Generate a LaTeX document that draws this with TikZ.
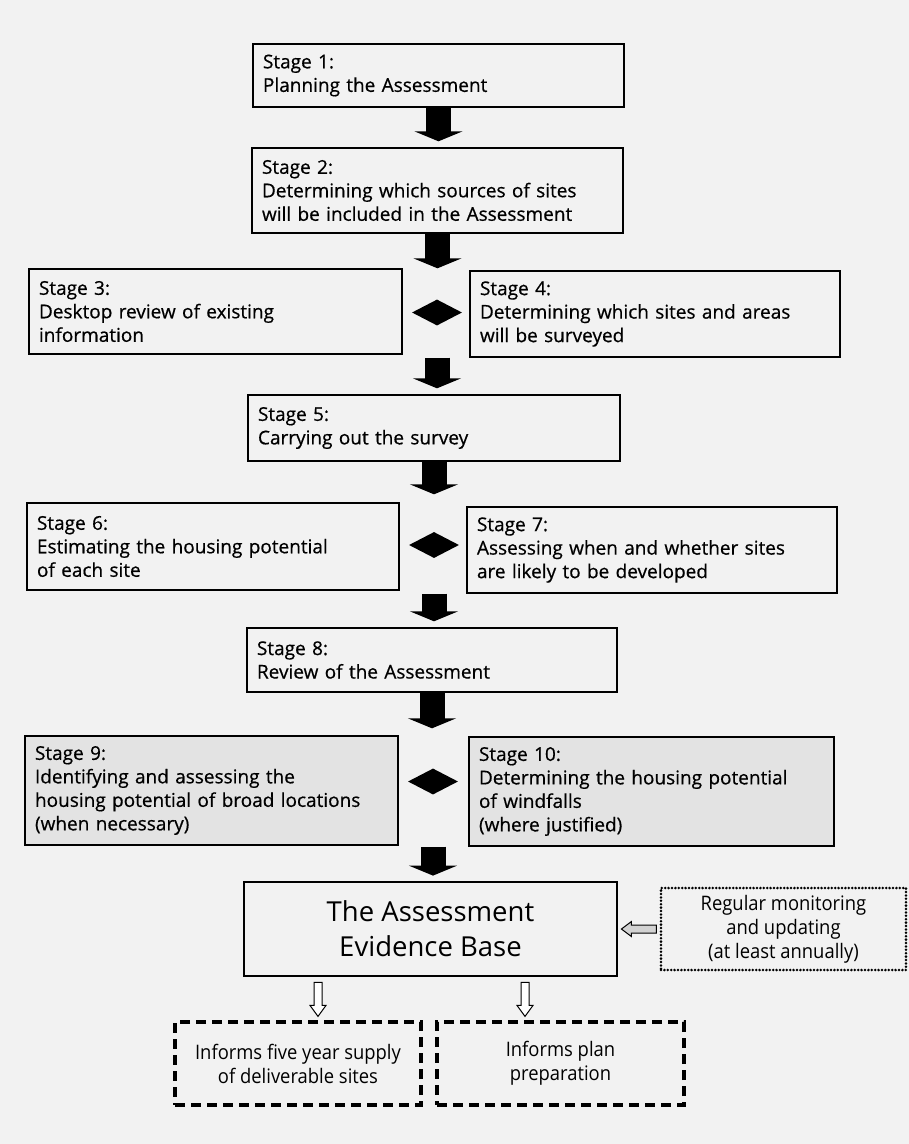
\documentclass[tikz,border=0pt]{standalone}
\usepackage{fontspec}
\setmainfont{Open Sans}
\newfontfamily\stagefont[FakeBold=0.6]{Open Sans}
\newfontfamily\narrowfont[FakeStretch=0.92]{Open Sans}
\usetikzlibrary{positioning,arrows.meta,shapes.geometric,calc}

\begin{document}
\begin{tikzpicture}[x=1pt, y=-1pt,
    stagebox/.style={draw, line width=1.4pt, align=left, inner xsep=10pt, inner ysep=0pt,
        font=\stagefont\fontsize{19}{23.5}\selectfont},
    windbox/.style={stagebox, fill=gray!22},
    bigarrow/.style={line width=25pt, -{Triangle[width=48pt, length=10pt]}},
    joint/.style={diamond, fill=black, inner sep=0pt, aspect=2, minimum width=50pt, minimum height=26pt},
    outbox/.style={draw, dash pattern=on 10pt off 6pt, line width=3.2pt, align=center,
        font=\narrowfont\fontsize{20}{24}\selectfont},
    hollow/.style={draw, line width=1pt}]
    % =========================================================
    % PAPER
    % =========================================================
    \fill[gray!10] (0,0) rectangle (909,1144);
    \useasboundingbox (0,0) rectangle (909,1144);

    % =========================================================
    % STAGES 1 TO 5
    % =========================================================
    \node[stagebox, text width=351pt, minimum height=63pt] (s1) at (438.5,75.5)
        {Stage 1:\\Planning the Assessment};
    \node[stagebox, text width=351pt, minimum height=85pt] (s2) at (437.5,190.5)
        {Stage 2:\\Determining which sources of sites\\will be included in the Assessment};
    \node[stagebox, text width=353pt, minimum height=85pt] (s3) at (215.5,311.5)
        {Stage 3:\\Desktop review of existing\\information};
    \node[stagebox, text width=350pt, minimum height=86pt] (s4) at (655,314)
        {Stage 4:\\Determining which sites and areas\\will be surveyed};
    \node[joint] (j34) at (437,312.5) {};
    \node[stagebox, text width=352pt, minimum height=66pt] (s5) at (434,428)
        {Stage 5:\\Carrying out the survey};

    % =========================================================
    % STAGES 6 TO 10
    % =========================================================
    \node[stagebox, text width=352pt, minimum height=87pt] (s6) at (213,546.5)
        {Stage 6:\\Estimating the housing potential\\of each site};
    \node[stagebox, text width=350pt, minimum height=86pt] (s7) at (652,550)
        {Stage 7:\\Assessing when and whether sites\\are likely to be developed};
    \node[joint] (j67) at (434,545) {};
    \node[stagebox, text width=350pt, minimum height=64pt] (s8) at (432,660)
        {Stage 8:\\Review of the Assessment};
    \node[windbox, text width=353pt, minimum height=109pt] (s9) at (211.5,790.5)
        {Stage 9:\\Identifying and assessing the\\housing potential of broad locations\\(when necessary)};
    \node[windbox, text width=345pt, minimum height=109pt] (s10) at (651.5,791.5)
        {Stage 10:\\Determining the housing potential\\of windfalls\\(where justified)};
    \node[joint] (j910) at (433,781.5) {};

    % block arrows
    \draw[bigarrow, shorten >=6pt] (s1.south) -- (s1.south |- s2.north);
    \draw[bigarrow] (s2.south) -- (s2.south |- s3.north);
    \draw[bigarrow, shorten >=6pt] (j34 |- s4.south) -- (j34 |- s5.north);
    \draw[bigarrow, shorten >=8pt] (s5.south) -- (s5.south |- s6.north);
    \draw[bigarrow, shorten >=6pt] (j67 |- s7.south) -- (j67 |- s8.north);
    \draw[bigarrow, shorten >=7pt] (s8.south) -- (s8.south |- s9.north);

    % =========================================================
    % EVIDENCE BASE AND OUTPUTS
    % =========================================================
    \node[draw, line width=2.8pt, minimum width=373pt, minimum height=94pt, align=center,
        font=\fontsize{27.5}{35}\selectfont] (ev) at (430.5,929) {The Assessment\\Evidence Base};
    \draw[bigarrow, shorten >=5pt] (j910 |- s10.south) -- (j910 |- ev.north);

    \node[draw, dash pattern=on 0pt off 3.4pt, line cap=round, line width=2.8pt,
        minimum width=245pt, minimum height=82pt, align=center,
        font=\narrowfont\fontsize{20}{24}\selectfont] (reg) at (783.5,929)
        {Regular monitoring\\and updating\\(at least annually)};
    \node[outbox, minimum width=246pt, minimum height=83pt] (d1) at (298,1063.5)
        {Informs five year supply\\of deliverable sites};
    \node[outbox, minimum width=247pt, minimum height=83pt] (d2) at (560.5,1063.5)
        {Informs plan\\preparation};

    % hollow arrows
    \draw[hollow, fill=gray!35] ($(ev.east)+(3,0)$) -- ++(10,-7.5) -- ++(0,3.5) -- ++(25,0)
        -- ++(0,8) -- ++(-25,0) -- ++(0,3.5) -- cycle;
    \draw[hollow, fill=white] ($(ev.south)+(-116.5,5)$) -- ++(8,0) -- ++(0,23) -- ++(4,0)
        -- ++(-8,11) -- ++(-8,-11) -- ++(4,0) -- cycle;
    \draw[hollow, fill=white] ($(ev.south)+(90.5,5)$) -- ++(8,0) -- ++(0,23) -- ++(4,0)
        -- ++(-8,11) -- ++(-8,-11) -- ++(4,0) -- cycle;
\end{tikzpicture}
\end{document}
